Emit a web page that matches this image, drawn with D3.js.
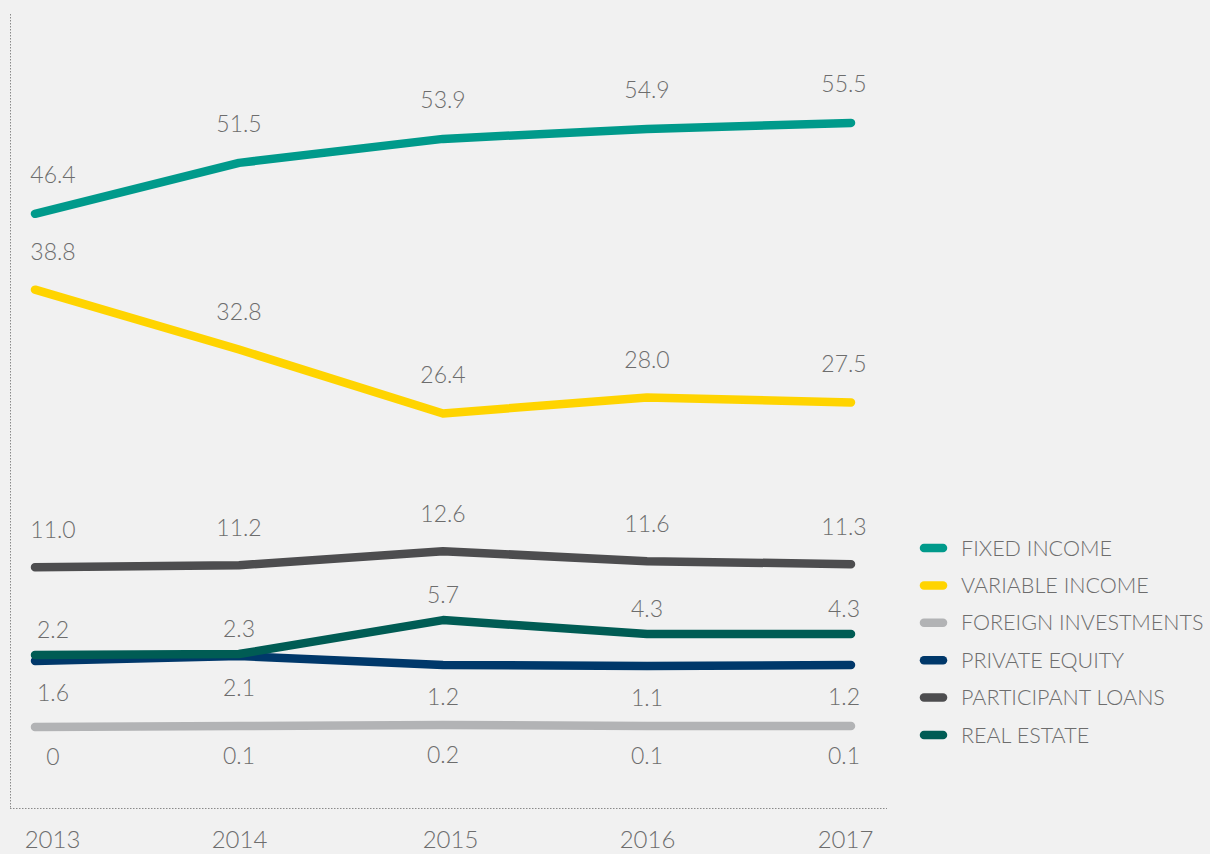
<!DOCTYPE html>
<html>
<head>
<meta charset="utf-8">
<script src="https://cdn.jsdelivr.net/npm/d3@7"></script>
<style>
  html, body { margin: 0; padding: 0; background: #f1f1f1; }
  svg { display: block; font-family: "Source Sans Pro", Lato, "Open Sans", sans-serif; font-weight: 300; }
</style>
</head>
<body>
<script>
// 资产配置折线图
let years = [2013, 2014, 2015, 2016, 2017]
let seriesNames = ['FIXED INCOME', 'VARIABLE INCOME', 'FOREIGN INVESTMENTS', 'PRIVATE EQUITY', 'PARTICIPANT LOANS', 'REAL ESTATE']
let fixedIncome = [46.4, 51.5, 53.9, 54.9, 55.5]
let variableIncome = [38.8, 32.8, 26.4, 28.0, 27.5]
let foreignInvestments = [0, 0.1, 0.2, 0.1, 0.1]
let privateEquity = [1.6, 2.1, 1.2, 1.1, 1.2]
let participantLoans = [11.0, 11.2, 12.6, 11.6, 11.3]
let realEstate = [2.2, 2.3, 5.7, 4.3, 4.3]
let labelText = [
  ['46.4', '51.5', '53.9', '54.9', '55.5'],
  ['38.8', '32.8', '26.4', '28.0', '27.5'],
  ['0', '0.1', '0.2', '0.1', '0.1'],
  ['1.6', '2.1', '1.2', '1.1', '1.2'],
  ['11.0', '11.2', '12.6', '11.6', '11.3'],
  ['2.2', '2.3', '5.7', '4.3', '4.3']
]
let colors = ['#009a8b', '#ffd400', '#b2b3b5', '#00386a', '#4d4d4f', '#005c54']
let labelDy = [-39, -38, 30, 32, -37, -25] // 标签相对于点的偏移
let drawOrder = [2, 3, 5, 4, 1, 0]

let W = 1210
let H = 854
let textColor = '#6d6d6d'

let allSeries = [fixedIncome, variableIncome, foreignInvestments, privateEquity, participantLoans, realEstate]
let series = seriesNames.map((name, i) => ({ name: name, values: allSeries[i], labels: labelText[i], color: colors[i], dy: labelDy[i] }))

let svg = d3.select('body').append('svg')
  .attr('width', W)
  .attr('height', H)

svg.append('rect').attr('width', W).attr('height', H).attr('fill', '#f1f1f1')

// x比例尺
let xScale = d3.scalePoint().domain(years).range([35, 851])
// y比例尺 (分段，底部小值稍微拉开)
let yScale = d3.scaleLinear().domain([0, 0.5, 1, 60]).range([727, 722, 667, 78])

// 虚线边框
svg.append('line')
  .attr('x1', 10.5).attr('x2', 10.5).attr('y1', 14).attr('y2', 808)
  .attr('stroke', '#8a8a8a').attr('stroke-width', 1).attr('stroke-dasharray', '1.5,1.5')
svg.append('line')
  .attr('x1', 10).attr('x2', 887).attr('y1', 808.5).attr('y2', 808.5)
  .attr('stroke', '#8a8a8a').attr('stroke-width', 1).attr('stroke-dasharray', '1.5,1.5')

// x轴年份
let xAxis = d3.axisBottom(xScale).tickSize(0).tickPadding(0).tickFormat(d3.format('d'))
let axisG = svg.append('g')
  .attr('transform', 'translate(0,840)')
  .call(xAxis)
axisG.select('.domain').remove()
axisG.selectAll('text')
  .attr('x', (d) => Math.min(Math.max(xScale(d), 52), 845) - xScale(d) + (d === 2015 ? 7 : 0))
  .attr('dy', '0.32em')
  .attr('font-size', 24)
  .attr('font-family', '"Source Sans Pro", Lato, "Open Sans", sans-serif')
  .attr('font-weight', 300)
  .attr('fill', textColor)

// 折线
let line = d3.line()
  .x((d, i) => xScale(years[i]))
  .y((d) => yScale(d))

svg.selectAll('.series-line')
  .data(drawOrder.map((i) => series[i]))
  .enter()
  .append('path')
  .attr('class', 'series-line')
  .attr('d', (d) => line(d.values))
  .attr('fill', 'none')
  .attr('stroke', (d) => d.color)
  .attr('stroke-width', 8.5)
  .attr('stroke-linecap', 'round')
  .attr('stroke-linejoin', 'round')

// 数值标签
let labelG = svg.selectAll('.labels')
  .data(series)
  .enter()
  .append('g')
  .attr('class', 'labels')
labelG.selectAll('text')
  .data((s) => s.values.map((v, i) => ({ v: v, t: s.labels[i], year: years[i], dy: s.dy })))
  .enter()
  .append('text')
  .attr('x', (d) => Math.min(Math.max(xScale(d.year), 53), 844))
  .attr('y', (d) => yScale(d.v) + d.dy)
  .attr('dy', '0.35em')
  .attr('text-anchor', 'middle')
  .attr('font-size', 23)
  .attr('fill', textColor)
  .text((d) => d.t)

// 图例
let legend = svg.selectAll('.legend')
  .data(series)
  .enter()
  .append('g')
  .attr('class', 'legend')
  .attr('transform', (d, i) => 'translate(0,' + (548 + 37.4 * i) + ')')
legend.append('line')
  .attr('x1', 924).attr('x2', 943)
  .attr('stroke', (d) => d.color)
  .attr('stroke-width', 8.5)
  .attr('stroke-linecap', 'round')
legend.append('text')
  .attr('x', 961)
  .attr('dy', '0.35em')
  .attr('font-size', 21.5)
  .attr('fill', textColor)
  .text((d) => d.name)
</script>
</body>
</html>
